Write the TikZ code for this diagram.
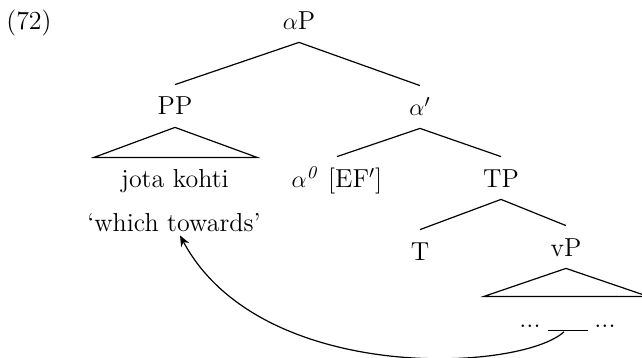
\documentclass[tikz,border=0pt]{standalone}
\usetikzlibrary{arrows.meta}
\begin{document}
\begin{tikzpicture}[x=0.5pt,y=-0.5pt,
  font=\fontsize{13}{15}\selectfont,
  lab/.style={inner xsep=0pt, inner ysep=6pt, text height=9pt, text depth=0pt},
  gloss/.style={inner xsep=0pt, inner ysep=2pt, text height=9pt, text depth=0pt},
  branch/.style={line width=0.6pt},
  move/.style={line width=0.6pt, -{Stealth[length=5.5pt,width=4.5pt]}}]
\useasboundingbox (0,0) rectangle (642,358);
% labels
\node[lab] (ex) at (29,21) {(72)};
\node[lab] (aP) at (299,21) {$\alpha$P};
\node[lab] (PP) at (175,106) {PP};
\node[lab] (ab) at (420,107) {$\alpha'$};
\node[lab] (jk) at (175,178) {jota kohti};
\node[gloss] (wt) at (174,222) {`which towards'};
\node[lab] (a0) at (337,178) {$\alpha^{\mathit{0}}$ [EF$'$]};
\node[lab] (TP) at (501,178) {TP};
\node[lab] (T) at (420,251) {T};
\node[lab] (vP) at (566,247) {vP};
\node[inner sep=0pt, anchor=base] (dl) at (530,327) {...};
\node[inner sep=0pt, anchor=base] (tr) at (568,331) {\rule{20pt}{0.6pt}};
\node[inner sep=0pt, anchor=base] (dr) at (605,327) {...};
% branches
\draw[branch] (aP.south) -- (PP.north);
\draw[branch] (aP.south) -- (ab.north);
\draw[branch] (ab.south) -- (a0.north);
\draw[branch] (ab.south) -- (TP.north);
\draw[branch] (TP.south) -- (T.north);
\draw[branch] (TP.south) -- (vP.north);
% triangles
\draw[branch] (PP.south) -- ++(-81,30) -- ++(163,0) -- cycle;
\draw[branch] (vP.south) -- ++(-82,28) -- ++(164,0) -- cycle;
% movement arrow
\draw[move] ([xshift=-2pt]tr.south) .. controls (520,372) and (260,385) .. ([xshift=3pt]wt.south);
\end{tikzpicture}
\end{document}
